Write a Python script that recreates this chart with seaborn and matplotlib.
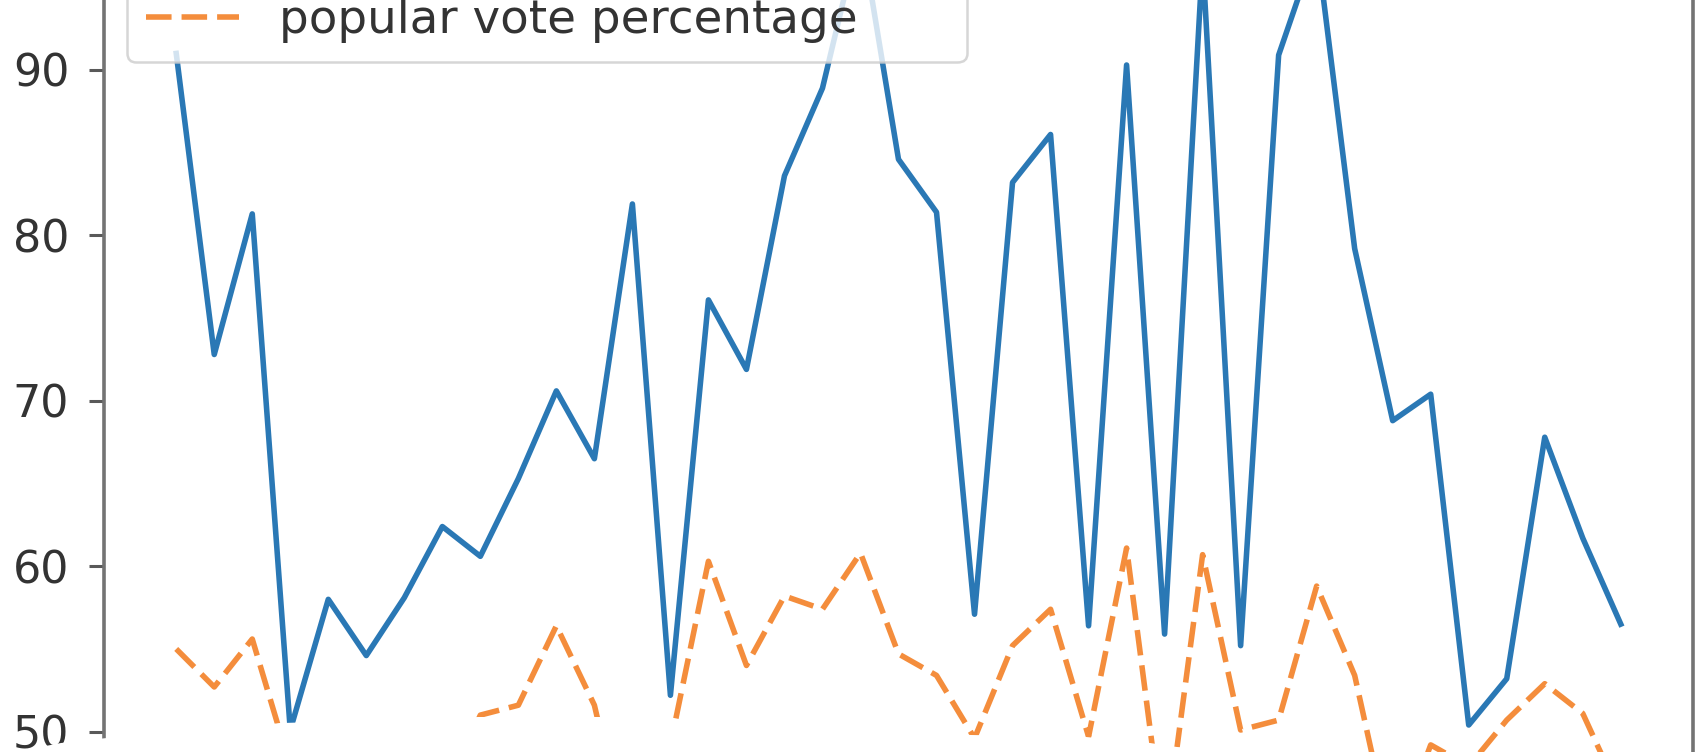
import matplotlib
matplotlib.use("Agg")
import matplotlib.pyplot as plt
from matplotlib.patches import Polygon
import seaborn as sns
import pandas as pd

# election years and winner's share of electoral / popular vote (%)
years = list(range(1864, 2017, 4))
electoral_pct = [91.0, 72.8, 81.3, 50.1, 58.0, 54.6, 58.1, 62.4, 60.6, 65.3,
                 70.6, 66.5, 81.9, 52.2, 76.1, 71.9, 83.6, 88.9, 98.5, 84.6,
                 81.4, 57.1, 83.2, 86.1, 56.4, 90.3, 55.9, 96.7, 55.2, 90.9,
                 97.6, 79.2, 68.8, 70.4, 50.4, 53.2, 67.8, 61.7, 56.5]
popular_pct = [55.0, 52.7, 55.6, 47.9, 48.3, 48.9, 47.8, 46.0, 51.0, 51.6,
               56.4, 51.6, 41.8, 49.2, 60.3, 54.0, 58.2, 57.4, 60.8, 54.7,
               53.4, 49.6, 55.2, 57.4, 49.7, 61.1, 43.4, 60.7, 50.1, 50.7,
               58.8, 53.4, 43.0, 49.2, 47.9, 50.7, 52.9, 51.1, 46.1]
series_labels = ["electoral college percentage", "popular vote percentage"]
y_ticks = [50, 60, 70, 80, 90]

df = pd.DataFrame({"year": years, "electoral": electoral_pct, "popular": popular_pct})

W, H = 1702, 752
fig = plt.figure(figsize=(W / 100, H / 100), dpi=100)
# the picture is a close crop of a larger chart: axes run past the top/bottom edges
ax = fig.add_axes([104 / W, 0.0, (1693 - 104) / W, 1.0])

sns.lineplot(data=df, x="year", y="electoral", ax=ax, color="#2a78b5",
             linewidth=4, label=series_labels[0])
sns.lineplot(data=df, x="year", y="popular", ax=ax, color="#f48d3c",
             linewidth=4, dashes=(4.6, 1.8), label=series_labels[1])

ax.set_xlim(1856.4, 2023.6)
ax.set_ylim(48.77, 94.23)
ax.set_yticks(y_ticks)
ax.set_xlabel("")
ax.set_ylabel("")
ax.tick_params(axis="x", bottom=False, labelbottom=False)
ax.tick_params(axis="y", length=11, width=2.2, pad=14, labelsize=32,
               colors="0.35", labelcolor="0.2")
for side in ["top", "bottom"]:
    ax.spines[side].set_visible(False)
for side in ["left", "right"]:
    ax.spines[side].set_linewidth(2.6)
    ax.spines[side].set_color("0.45")

leg = ax.legend(loc="lower left", bbox_to_anchor=(127 / W, 1 - 62 / H),
                bbox_transform=fig.transFigure, borderaxespad=0,
                fontsize=33.7, framealpha=0.8, handlelength=2.0,
                handletextpad=0.85)
leg.get_frame().set_edgecolor("0.8")
leg.get_frame().set_linewidth(1.8)
for t in leg.get_texts():
    t.set_color("0.2")

# torn white edge across the bottom of the crop
edge = [(0, 752), (15, 752), (61, 743), (107, 738), (145, 733), (283, 723),
        (478, 717), (600, 717), (676, 720), (850, 728), (971, 735),
        (1086, 737), (1150, 743), (1177, 747), (1250, 752), (1250, 760), (0, 760)]
poly = Polygon([(x / W, 1 - y / H) for x, y in edge], closed=True,
               transform=fig.transFigure, facecolor="white", edgecolor="none",
               zorder=10)
fig.add_artist(poly)

fig.savefig("out.png", dpi=100)
